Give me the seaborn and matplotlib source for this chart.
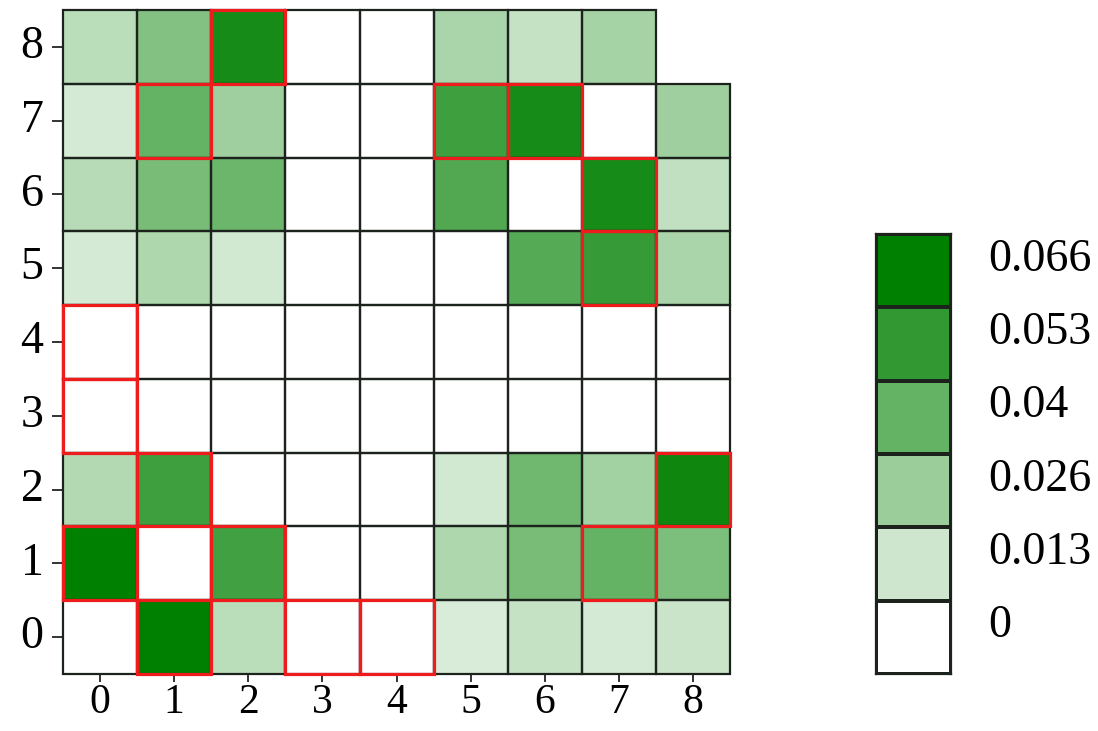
import numpy as np
import pandas as pd
import matplotlib
matplotlib.use("Agg")
import matplotlib.pyplot as plt
from matplotlib.colors import LinearSegmentedColormap
from matplotlib.patches import Rectangle
import seaborn as sns

# Grid labels (row 0 at the bottom, column 0 at the left)
cols = [0, 1, 2, 3, 4, 5, 6, 7, 8]
rows = [8, 7, 6, 5, 4, 3, 2, 1, 0]

# Cell values, listed from the top row (8) down to row 0; NaN = no cell
row_8 = [0.018, 0.032, 0.060, 0.0, 0.0, 0.022, 0.015, 0.023, np.nan]
row_7 = [0.011, 0.040, 0.025, 0.0, 0.0, 0.050, 0.060, 0.0, 0.025]
row_6 = [0.019, 0.035, 0.038, 0.0, 0.0, 0.045, 0.0, 0.060, 0.016]
row_5 = [0.011, 0.021, 0.012, 0.0, 0.0, 0.0, 0.044, 0.052, 0.022]
row_4 = [0.0, 0.0, 0.0, 0.0, 0.0, 0.0, 0.0, 0.0, 0.0]
row_3 = [0.0, 0.0, 0.0, 0.0, 0.0, 0.0, 0.0, 0.0, 0.0]
row_2 = [0.020, 0.050, 0.0, 0.0, 0.0, 0.012, 0.037, 0.024, 0.062]
row_1 = [0.066, 0.0, 0.049, 0.0, 0.0, 0.021, 0.035, 0.040, 0.034]
row_0 = [0.0, 0.066, 0.018, 0.0, 0.0, 0.010, 0.015, 0.011, 0.014]

# Highlighted cells as (row, column)
highlighted = [(8, 2), (7, 1), (7, 5), (7, 6), (6, 7), (5, 7), (4, 0), (3, 0),
               (2, 1), (2, 8), (1, 0), (1, 2), (1, 7), (0, 1), (0, 3), (0, 4)]

# Legend levels, top to bottom
levels = [0.066, 0.053, 0.04, 0.026, 0.013, 0]
level_labels = ["0.066", "0.053", "0.04", "0.026", "0.013", "0"]

data = pd.DataFrame([row_8, row_7, row_6, row_5, row_4, row_3, row_2, row_1, row_0],
                    index=rows, columns=cols)

plt.rcParams["font.family"] = ["Liberation Serif", "DejaVu Serif"]

cmap = LinearSegmentedColormap.from_list("wg", ["#ffffff", "#008000"])
vmin, vmax = 0.0, 0.066
grid_color = "#1c231c"
grid_lw = 1.6
label_size = 33

fig = plt.figure(figsize=(10.98, 7.31), dpi=100)
ax = fig.add_axes([0.0574, 0.078, 0.6076, 0.9083])
cax = fig.add_axes([0.7978, 0.078, 0.0683, 0.602])

sns.heatmap(data, ax=ax, cmap=cmap, vmin=vmin, vmax=vmax, cbar=False,
            mask=data.isna(), linewidths=0,
            xticklabels=cols, yticklabels=rows)

# Cell borders only around cells that hold a value
for i, r in enumerate(rows):
    for j, c in enumerate(cols):
        if not np.isnan(data.loc[r, c]):
            ax.add_patch(Rectangle((j, i), 1, 1, fill=False,
                                   edgecolor=grid_color, linewidth=grid_lw,
                                   clip_on=False, zorder=3))

for r, c in highlighted:
    ax.add_patch(Rectangle((cols.index(c), rows.index(r)), 1, 1, fill=False,
                           edgecolor="#ee1c1c", linewidth=2.3,
                           clip_on=False, zorder=5))

ax.tick_params(axis="both", which="both", width=1.4, color="#333333")
ax.tick_params(axis="x", length=6, pad=1, labelsize=30, labelrotation=0)
ax.tick_params(axis="y", length=8, pad=6, labelsize=label_size, labelrotation=0)
ax.set_xlabel("")
ax.set_ylabel("")

# Discrete legend drawn as a single-column heatmap
legend_df = pd.DataFrame({"v": levels}, index=level_labels)
sns.heatmap(legend_df, ax=cax, cmap=cmap, vmin=vmin, vmax=vmax, cbar=False,
            linewidths=grid_lw, linecolor=grid_color,
            xticklabels=False, yticklabels=level_labels)
for s in cax.spines.values():
    s.set_visible(True)
    s.set_color(grid_color)
    s.set_linewidth(grid_lw)
cax.yaxis.tick_right()
cax.tick_params(axis="y", length=0, labelsize=label_size, pad=27, labelrotation=0)
for lab in cax.get_yticklabels():
    lab.set_verticalalignment("baseline")
cax.set_ylabel("")
cax.set_xlabel("")

fig.savefig("out.png", dpi=100, facecolor="white")
